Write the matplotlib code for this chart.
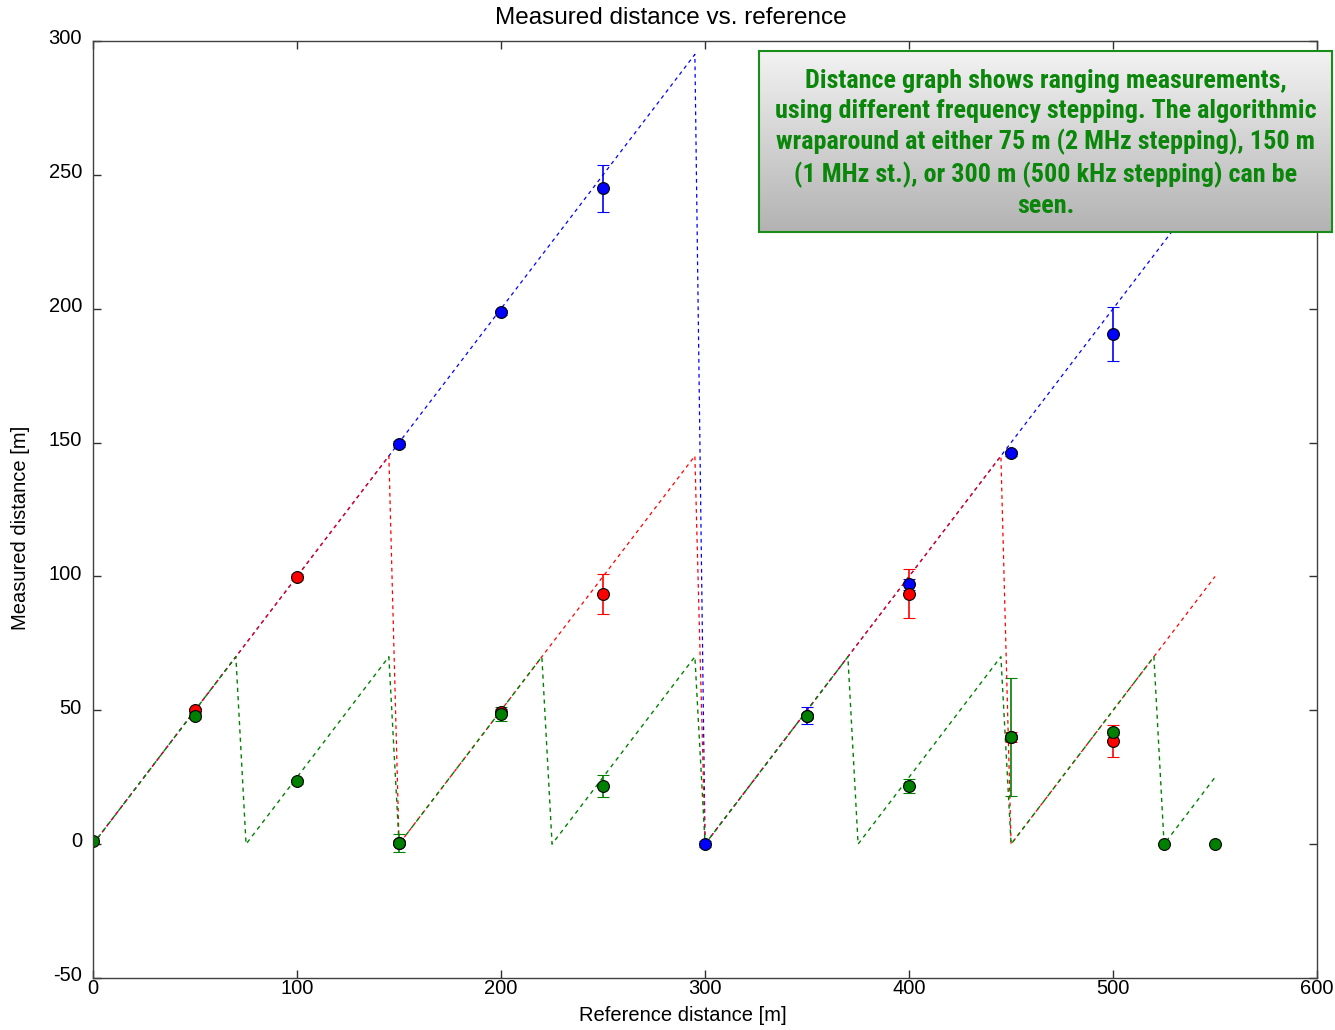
import numpy as np
import matplotlib
matplotlib.use("Agg")
import matplotlib.pyplot as plt
from matplotlib.transforms import ScaledTranslation

# Theoretical wraparound curves (vertices)
green_line_x = [0, 70, 75, 145, 150, 220, 225, 295, 300, 370, 375, 445, 450, 520, 525, 550]
green_line_y = [0, 70, 0, 70, 0, 70, 0, 70, 0, 70, 0, 70, 0, 70, 0, 25]
red_line_x = [0, 145, 150, 295, 300, 445, 450, 550]
red_line_y = [0, 145, 0, 145, 0, 145, 0, 100]
blue_line_x = [0, 295, 300, 550]
blue_line_y = [0, 295, 0, 250]

# Measurements
blue_x = [150, 200, 250, 300, 350, 400, 450, 500]
blue_y = [149.5, 198.7, 245.0, 0.0, 48.0, 97.0, 146.0, 190.5]
blue_err = [1.0, 1.0, 8.7, 1.0, 3.2, 2.0, 1.0, 10.0]

red_x = [50, 100, 150, 200, 250, 400, 450, 500]
red_y = [50.0, 99.8, 0.5, 49.5, 93.4, 93.6, 40.0, 38.5]
red_err = [1.0, 1.0, 1.0, 1.0, 7.5, 9.3, 2.0, 6.0]

green_x = [0, 50, 100, 150, 200, 250, 350, 400, 450, 500, 525, 550]
green_y = [1.3, 47.8, 23.5, 0.4, 48.6, 21.7, 47.8, 21.7, 40.1, 41.9, 0.0, 0.0]
green_err = [1.0, 1.0, 1.0, 3.5, 2.7, 4.0, 1.0, 2.5, 22.0, 1.0, 0.5, 0.5]

x_ticks = [0, 100, 200, 300, 400, 500, 600]
y_ticks = [-50, 0, 50, 100, 150, 200, 250, 300]

note = ("Distance graph shows ranging measurements,\n"
        "using different frequency stepping. The algorithmic\n"
        "wraparound at either 75 m (2 MHz stepping), 150 m\n"
        "(1 MHz st.), or 300 m (500 kHz stepping) can be\n"
        "seen.")

plt.rcParams['font.family'] = ['Liberation Sans', 'DejaVu Sans']
plt.rcParams['axes.unicode_minus'] = False

BLUE = '#0000ff'
RED = '#ff0000'
GREEN = '#008000'

fig = plt.figure(figsize=(13.35, 10.3), dpi=100)
ax = fig.add_axes([0.0697, 0.0505, 0.9169, 0.9097])

dash = (0, (3, 3))
ax.plot(blue_line_x, blue_line_y, color=BLUE, lw=0.9, ls=dash)
ax.plot(red_line_x, red_line_y, color=RED, lw=0.9, ls=dash)
ax.plot(green_line_x, green_line_y, color=GREEN, lw=1.0, ls=dash)

for xs, ys, es, c in [(blue_x, blue_y, blue_err, BLUE),
                      (red_x, red_y, red_err, RED),
                      (green_x, green_y, green_err, GREEN)]:
    ax.errorbar(xs, ys, yerr=es, fmt='o', color=c, ecolor=c, elinewidth=1.2,
                capsize=4.3, capthick=1.2, markersize=8.5,
                markerfacecolor=c, markeredgecolor='black', markeredgewidth=0.8)

ax.set_xlim(0, 600)
ax.set_ylim(-50, 300)
ax.set_xticks(x_ticks)
ax.set_yticks(y_ticks)
ax.tick_params(direction='in', length=6, width=1, top=True, right=True,
               labelsize=14.5, colors='#303030', labelcolor='black')
ax.tick_params(axis='y', pad=8)
ax.tick_params(axis='x', pad=1)
for s in ax.spines.values():
    s.set_color('#404040')
    s.set_linewidth(1.0)
for lab in ax.get_yticklabels():
    lab.set_transform(lab.get_transform() + ScaledTranslation(0, 3 / 72, fig.dpi_scale_trans))

fig.text(671 / 1335, 1 - 18 / 1030, "Measured distance vs. reference",
         fontsize=17.5, ha='center', va='center')
ax.set_xlabel("Reference distance [m]", fontsize=14.5)
ax.set_ylabel("Measured distance [m]", fontsize=14.5)
ax.xaxis.set_label_coords(0.482, -0.030)
ax.yaxis.set_label_coords(-0.0515, 0.48)

# Annotation box with gradient
bx = fig.add_axes([0.5685, 0.7748, 0.4292, 0.1757])
grad = np.linspace(0.95, 0.70, 256).reshape(-1, 1)
bx.imshow(np.dstack([grad, grad, grad]), aspect='auto', extent=[0, 1, 0, 1],
          origin='upper')
bx.set_xticks([])
bx.set_yticks([])
for s in bx.spines.values():
    s.set_color('#1a8c1a')
    s.set_linewidth(1.5)
bx.text(0.5, 0.49, note, ha='center', va='center', color='#0a870a',
        fontsize=18.8, fontweight='bold', linespacing=1.31,
        family=['Roboto Condensed', 'Liberation Sans', 'DejaVu Sans'],
        transform=bx.transAxes)

fig.savefig("out.png", dpi=100)
